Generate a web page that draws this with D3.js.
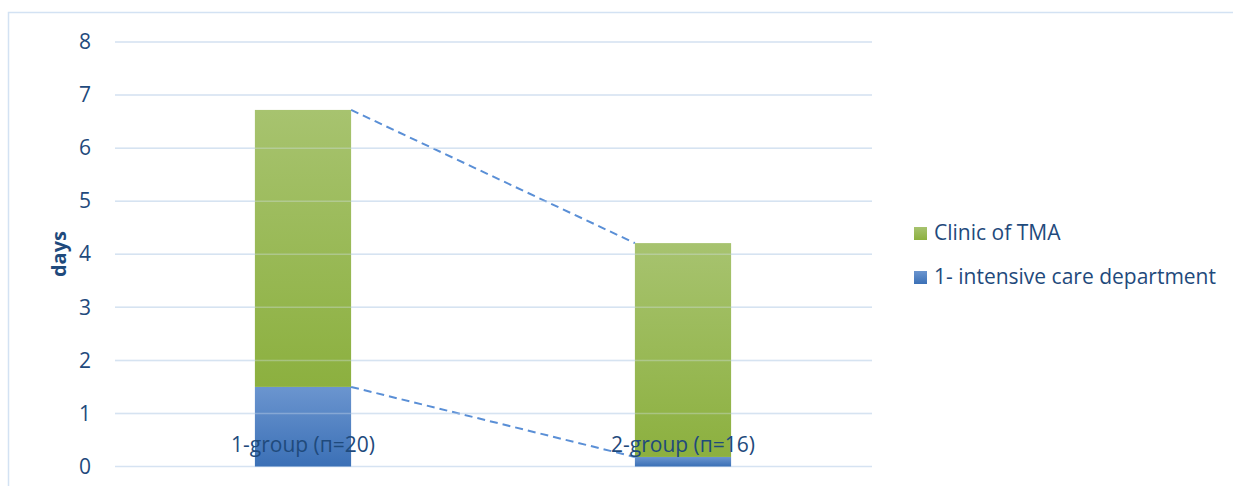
<!DOCTYPE html>
<html>
<head>
<meta charset="utf-8">
<script src="https://cdn.jsdelivr.net/npm/d3@7"></script>
<style>
  body { margin: 0; background: #fff; }
  svg { display: block; font-family: "Open Sans", sans-serif; }
</style>
</head>
<body>
<svg id="chart" width="1233" height="486"></svg>
<script>
var categories = ["1-group (п=20)", "2-group (п=16)"];
var icuDays = [1.5, 0.18];
var clinicDays = [5.22, 4.03];
var yTicks = [0, 1, 2, 3, 4, 5, 6, 7, 8];
var seriesNames = ["Clinic of TMA", "1- intensive care department"];

var textColor = "#1f4a7c";
var svg = d3.select("#chart");

// outer chart border
svg.append("rect")
	.attr("x", 8.5).attr("y", 12.5)
	.attr("width", 1240).attr("height", 490)
	.attr("fill", "none")
	.attr("stroke", "#d3e2f3")
	.attr("stroke-width", 1.5);

var defs = svg.append("defs");
var addGrad = function(id, top, bottom) {
	var g = defs.append("linearGradient").attr("id", id)
		.attr("x1", 0).attr("y1", 0).attr("x2", 0).attr("y2", 1);
	g.append("stop").attr("offset", "0%").attr("stop-color", top);
	g.append("stop").attr("offset", "100%").attr("stop-color", bottom);
};
addGrad("gGreen", "#a7c36f", "#8cb03f");
addGrad("gBlue", "#6b95cf", "#3b70b6");

var x = d3.scaleBand().domain(categories).range([113, 873]);
var y = d3.scaleLinear().domain([0, 8]).range([466.5, 42]);
var barW = x.bandwidth() / 3.95;

// gridlines
svg.append("g").selectAll("line").data(yTicks).enter()
	.append("line")
	.attr("x1", 115).attr("x2", 872)
	.attr("y1", function(d) { return y(d); })
	.attr("y2", function(d) { return y(d); })
	.attr("stroke", "#d6e3f2")
	.attr("stroke-width", 1.5);

// y axis labels
var yAxis = svg.append("g")
	.attr("transform", "translate(91,0)")
	.call(d3.axisLeft(y).tickValues(yTicks).tickSize(0).tickPadding(0));
yAxis.select(".domain").remove();
yAxis.selectAll("text")
	.attr("fill", textColor)
	.style("font-size", "21px")
	.style("font-family", "'Open Sans', sans-serif");

svg.append("text")
	.attr("transform", "translate(59,254) rotate(-90)")
	.attr("text-anchor", "middle")
	.attr("dy", "0.35em")
	.attr("fill", textColor)
	.style("font-size", "20px")
	.style("font-weight", "bold")
	.text("days");

var stacked = categories.map(function(c, i) {
	return { cat: c, icu: icuDays[i], clinic: clinicDays[i] };
});
var left = function(d) { return x(d.cat) + (x.bandwidth() - barW) / 2; };

// series lines
var dashed = [
	function(d) { return d.icu; },
	function(d) { return d.icu + d.clinic; }
];
dashed.forEach(function(f) {
	svg.append("line")
		.attr("x1", left(stacked[0]) + barW).attr("y1", y(f(stacked[0])))
		.attr("x2", left(stacked[1])).attr("y2", y(f(stacked[1])))
		.attr("stroke", "#5a8fd6")
		.attr("stroke-width", 2)
		.attr("stroke-dasharray", "8,5");
});

var bars = svg.append("g").selectAll("g").data(stacked).enter().append("g");
bars.append("rect")
	.attr("x", left)
	.attr("width", barW)
	.attr("y", function(d) { return y(d.icu); })
	.attr("height", function(d) { return y(0) - y(d.icu); })
	.attr("fill", "url(#gBlue)");
bars.append("rect")
	.attr("x", left)
	.attr("width", barW)
	.attr("y", function(d) { return y(d.icu + d.clinic); })
	.attr("height", function(d) { return y(d.icu) - y(d.icu + d.clinic); })
	.attr("fill", "url(#gGreen)");

// gridlines show faintly over bars
svg.append("g").selectAll("line").data(yTicks.slice(1)).enter()
	.append("line")
	.attr("x1", 115).attr("x2", 872)
	.attr("y1", function(d) { return y(d); })
	.attr("y2", function(d) { return y(d); })
	.attr("stroke", "#d6e3f2")
	.attr("stroke-opacity", 0.35)
	.attr("stroke-width", 1.5);

// category labels
svg.append("g").selectAll("text").data(categories).enter()
	.append("text")
	.attr("x", function(d) { return x(d) + x.bandwidth() / 2; })
	.attr("y", 452)
	.attr("text-anchor", "middle")
	.attr("fill", textColor)
	.style("font-size", "21px")
	.text(function(d) { return d; });

// legend
var legend = svg.append("g").selectAll("g").data(seriesNames).enter()
	.append("g")
	.attr("transform", function(d, i) { return "translate(914," + (233 + i * 44) + ")"; });
legend.append("rect")
	.attr("x", 0).attr("y", -6)
	.attr("width", 13).attr("height", 13)
	.attr("fill", function(d, i) { return i === 0 ? "url(#gGreen)" : "url(#gBlue)"; });
legend.append("text")
	.attr("x", 20).attr("y", 0)
	.attr("dy", "0.35em")
	.attr("fill", textColor)
	.style("font-size", "21px")
	.text(function(d) { return d; });
</script>
</body>
</html>
